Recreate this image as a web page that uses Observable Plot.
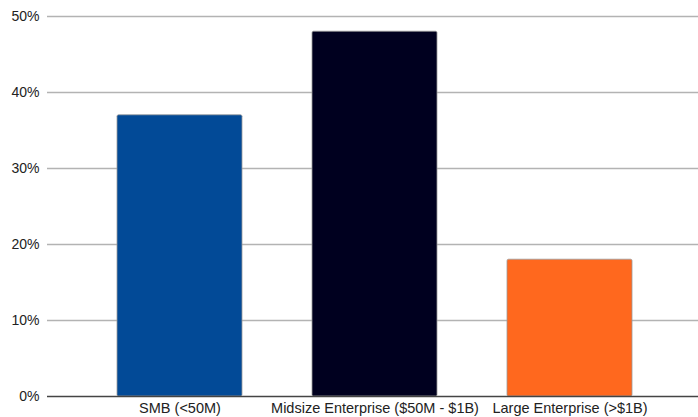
<!DOCTYPE html>
<html>
<head>
<meta charset="utf-8">
<script src="https://cdn.jsdelivr.net/npm/d3@7"></script>
<script src="https://cdn.jsdelivr.net/npm/@observablehq/plot@0.6"></script>
<style>
  html, body { margin: 0; padding: 0; background: #fff; }
  svg { display: block; }
</style>
</head>
<body>
<div id="chart"></div>
<script>
// Share of respondents by company size
const segments = ["SMB (<50M)", "Midsize Enterprise ($50M - $1B)", "Large Enterprise (>$1B)"];
const shares = [0.37, 0.48, 0.18];
const barColors = ["#024a97", "#00001f", "#ff681e"];
const yTicks = [0, 0.1, 0.2, 0.3, 0.4, 0.5];

const data = segments.map((segment, i) => ({segment, share: shares[i], color: barColors[i]}));

const chart = Plot.plot({
  width: 698,
  height: 417,
  marginTop: 16,
  marginLeft: 47,
  marginRight: 0,
  marginBottom: 21,
  style: {fontFamily: "Liberation Sans, Arial, sans-serif", fontSize: "14px", color: "#222"},
  x: {domain: segments, paddingInner: 0.36, paddingOuter: 0.18, insetLeft: 35, insetRight: 31, label: null},
  y: {domain: [0, 0.5], label: null},
  marks: [
    Plot.ruleY(yTicks.filter(d => d > 0), {stroke: "#b3b3b3", strokeWidth: 1.3}),
    Plot.barY(data, {
      x: "segment", y: "share", fill: "color",
      stroke: "#9a9a9a", strokeWidth: 0.8, rx: 1.5
    }),
    Plot.ruleY([0], {stroke: "#444", strokeWidth: 1.3}),
    Plot.axisY({
      ticks: yTicks, tickFormat: d => `${Math.round(d * 100)}%`,
      tickSize: 0, tickPadding: 8, fontSize: 14, fill: "#222"
    }),
    Plot.axisX({tickSize: 0, tickPadding: 6, fontSize: 14.5, fill: "#222"})
  ]
});

document.getElementById("chart").append(chart);
</script>
</body>
</html>
